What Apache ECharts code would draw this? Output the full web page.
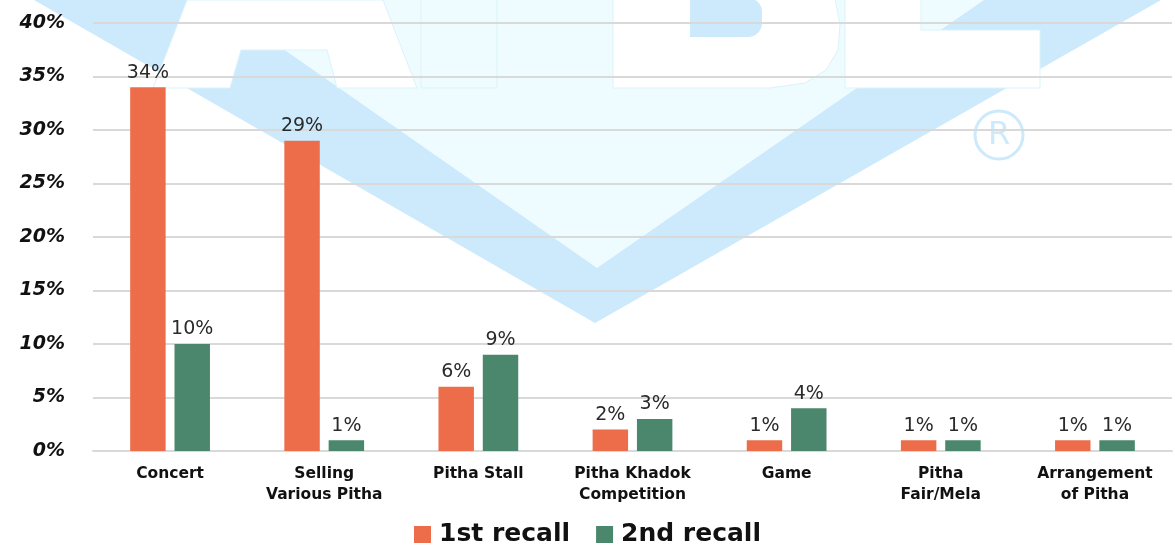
<!DOCTYPE html>
<html>
<head>
<meta charset="utf-8">
<title>recall</title>
<script src="https://cdn.jsdelivr.net/npm/echarts@6/dist/echarts.min.js"></script>
<style>
  html, body { margin: 0; padding: 0; background: #fff; }
  #main { width: 1175px; height: 545px; }
</style>
</head>
<body>
<div id="main"></div>
<script>
    // data
    var categories = ['Concert', 'Selling\nVarious Pitha', 'Pitha Stall', 'Pitha Khadok\nCompetition',
                      'Game', 'Pitha\nFair/Mela', 'Arrangement\nof Pitha'];
    var firstRecall = [34, 29, 6, 2, 1, 1, 1];
    var secondRecall = [10, 1, 9, 3, 4, 1, 1];
    var seriesNames = ['1st recall', '2nd recall'];

    var chart = echarts.init(document.getElementById('main'));

    // watermark (logo behind the chart)
    var band = '#cdeafc', pale = '#effcff', edge = '#d9f3fb';
    var watermark = [
        { type: 'polygon', z: -20, shape: { points: [[34, 0], [595, 323], [1161, 0]] }, style: { fill: band } },
        { type: 'polygon', z: -19, shape: { points: [[213, 0], [597, 268], [984, 0]] }, style: { fill: pale } },
        // A
        { type: 'polygon', z: -18, shape: { points: [[187, 0], [383, 0], [417, 88], [337, 88], [327, 50], [241, 50], [230, 88], [153, 88]] },
          style: { fill: '#fff', stroke: edge, lineWidth: 1 } },
        // I
        { type: 'rect', z: -18, shape: { x: 421, y: -2, width: 76, height: 90 }, style: { fill: pale, stroke: edge, lineWidth: 1 } },
        // B
        { type: 'polygon', z: -18, shape: { points: [[613, -2], [835, -2], [840, 25], [838, 50], [826, 70], [805, 83], [770, 88], [613, 88]] },
          style: { fill: '#fff', stroke: edge, lineWidth: 1 } },
        { type: 'rect', z: -17, shape: { x: 690, y: -2, width: 72, height: 39, r: [0, 14, 14, 0] }, style: { fill: band } },
        // L
        { type: 'polygon', z: -18, shape: { points: [[845, -2], [921, -2], [921, 30], [1040, 30], [1040, 88], [845, 88]] },
          style: { fill: '#fff', stroke: edge, lineWidth: 1 } },
        // registered mark
        { type: 'circle', z: -18, shape: { cx: 999, cy: 135, r: 24 }, style: { fill: 'none', stroke: band, lineWidth: 3 } },
        { type: 'text', z: -18, x: 999, y: 136, style: { text: 'R', fill: band, font: '32px "DejaVu Sans"', align: 'center', verticalAlign: 'middle' } }
    ];

    var labelStyle = {
        show: true,
        position: 'top',
        formatter: '{c}%',
        color: '#2a2a2a',
        fontFamily: 'DejaVu Sans',
        fontSize: 19,
        distance: 5
    };

    var option = {
        animation: false,
        backgroundColor: '#fff',
        graphic: watermark,
        grid: { left: 93, right: 3, top: 23, bottom: 94, containLabel: false },
        legend: {
            data: seriesNames,
            bottom: -7,
            left: 'center',
            itemWidth: 17,
            itemHeight: 17,
            itemGap: 26,
            icon: 'rect',
            textStyle: { fontFamily: 'DejaVu Sans', fontWeight: 'bold', fontSize: 25, color: '#111', padding: [0, 0, 0, 3] }
        },
        xAxis: {
            type: 'category',
            data: categories,
            axisTick: { show: false },
            axisLine: { lineStyle: { color: '#d9d9d9', width: 2 } },
            axisLabel: {
                interval: 0,
                margin: 12,
                color: '#111',
                fontFamily: 'DejaVu Sans',
                fontWeight: 'bold',
                fontSize: 15.5,
                lineHeight: 21
            }
        },
        yAxis: {
            type: 'value',
            min: 0,
            max: 40,
            interval: 5,
            axisLine: { show: false },
            axisTick: { show: false },
            splitLine: { lineStyle: { color: '#d9d9d9', width: 2 } },
            axisLabel: {
                formatter: '{value}%',
                margin: 28,
                color: '#111',
                fontFamily: 'DejaVu Sans',
                fontWeight: 'bold',
                fontStyle: 'italic',
                fontSize: 19
            }
        },
        series: [
            {
                name: seriesNames[0],
                type: 'bar',
                data: firstRecall,
                barWidth: '23%',
                barGap: '25%',
                itemStyle: { color: '#ED6D4A' },
                label: labelStyle
            },
            {
                name: seriesNames[1],
                type: 'bar',
                data: secondRecall,
                barWidth: '23%',
                itemStyle: { color: '#4A876C' },
                label: labelStyle
            }
        ]
    };

    chart.setOption(option);
</script>
</body>
</html>
